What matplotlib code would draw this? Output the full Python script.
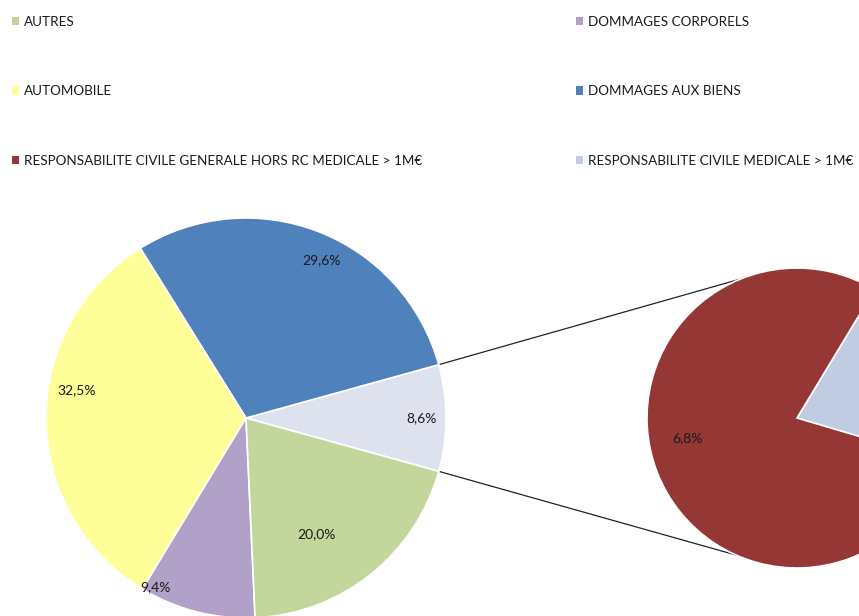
import numpy as np
import matplotlib
matplotlib.use("Agg")
import matplotlib.pyplot as plt
from matplotlib.patches import Patch

plt.rcParams['font.family'] = ['Lato', 'DejaVu Sans']

# Main pie (counter-clockwise from the right-hand "other" slice)
main_labels = ["RC > 1M€", "DOMMAGES AUX BIENS", "AUTOMOBILE",
               "DOMMAGES CORPORELS", "AUTRES"]
main_values = [8.6, 29.6, 32.5, 9.4, 20.0]

# Breakdown of the "RC > 1M€" slice
sub_labels = ["RESPONSABILITE CIVILE MEDICALE > 1M€",
              "RESPONSABILITE CIVILE GENERALE HORS RC MEDICALE > 1M€"]
sub_values = [1.8, 6.8]

# legend entries, read row by row (two per row)
legend_labels = ["AUTRES", "DOMMAGES CORPORELS", "AUTOMOBILE",
                 "DOMMAGES AUX BIENS",
                 "RESPONSABILITE CIVILE GENERALE HORS RC MEDICALE > 1M€",
                 "RESPONSABILITE CIVILE MEDICALE > 1M€"]

colors = {
    "AUTRES": "#C3D69B",
    "DOMMAGES CORPORELS": "#B1A0C7",
    "AUTOMOBILE": "#FFFF99",
    "DOMMAGES AUX BIENS": "#4F81BD",
    "RESPONSABILITE CIVILE GENERALE HORS RC MEDICALE > 1M€": "#953735",
    "RESPONSABILITE CIVILE MEDICALE > 1M€": "#BFCCE2",
    "RC > 1M€": "#DDE2EE",
}

def pct(v):
    return f"{v:.1f}%".replace(".", ",")

W, H = 859, 616
fig = plt.figure(figsize=(W / 100, H / 100), dpi=100)
ax = fig.add_axes([0, 0, 1, 1])

main_c, main_r = (246, 198), 200
sub_c, sub_r = (797, 198), 150

total = sum(main_values)
start = -main_values[0] / total * 180
wedges, _ = ax.pie(main_values, colors=[colors[l] for l in main_labels],
                   startangle=start, counterclock=True, center=main_c,
                   radius=main_r, wedgeprops=dict(edgecolor="white", linewidth=1.2))

# label placement (radius fraction, angular shift in degrees)
main_lab_r = [0.88, 0.875, 0.86, 0.96, 0.68]
main_lab_turn = [0, -4.3, -9.6, -14, -7.6]
for w, v, rf, tn in zip(wedges, main_values, main_lab_r, main_lab_turn):
    a = np.deg2rad((w.theta1 + w.theta2) / 2 + tn)
    ax.text(main_c[0] + rf * main_r * np.cos(a), main_c[1] + rf * main_r * np.sin(a),
            pct(v), ha="center", va="center", fontsize=10, color="#1a1a1a")

sub_wedges, _ = ax.pie(sub_values, colors=[colors[l] for l in sub_labels],
                       startangle=-16.5, counterclock=True, center=sub_c,
                       radius=sub_r, wedgeprops=dict(edgecolor="white", linewidth=1.2))
sub_lab_r = [0.74, 0.74]
sub_lab_turn = [0, -10.5]
for w, v, rf, tn in zip(sub_wedges, sub_values, sub_lab_r, sub_lab_turn):
    a = np.deg2rad((w.theta1 + w.theta2) / 2 + tn)
    x = sub_c[0] + rf * sub_r * np.cos(a)
    y = sub_c[1] + rf * sub_r * np.sin(a)
    if x + 20 < W:  # labels past the right edge of the canvas are not shown
        ax.text(x, y, pct(v), ha="center", va="center", fontsize=10,
                color="#1a1a1a")

# connector lines between the split slice and the secondary pie
w0 = wedges[0]
for ang_main, ang_sub in ((w0.theta2, 112), (w0.theta1, 246)):
    p = (main_c[0] + main_r * np.cos(np.deg2rad(ang_main)),
         main_c[1] + main_r * np.sin(np.deg2rad(ang_main)))
    q = (sub_c[0] + sub_r * np.cos(np.deg2rad(ang_sub)),
         sub_c[1] + sub_r * np.sin(np.deg2rad(ang_sub)))
    ax.plot([p[0], q[0]], [p[1], q[1]], color="#222222", lw=0.9, zorder=0)

ax.set_xlim(0, W)
ax.set_ylim(0, H)
ax.set_aspect("equal")
ax.axis("off")

# matplotlib fills legend columns first, so reorder the row-wise list
ncol = 2
col_order = legend_labels[0::ncol] + legend_labels[1::ncol]
handles = [Patch(facecolor=colors[l], edgecolor="none") for l in col_order]
fig.legend(handles, col_order, ncol=ncol, loc="upper left",
           bbox_to_anchor=(12 / W, 1 - 16 / H), frameon=False, fontsize=9.7,
           handlelength=0.55, handleheight=0.55, handletextpad=0.35,
           labelspacing=4.25, columnspacing=11.4, borderpad=0, borderaxespad=0,
           labelcolor="#1a1a1a")

fig.savefig("out.png", dpi=100)
